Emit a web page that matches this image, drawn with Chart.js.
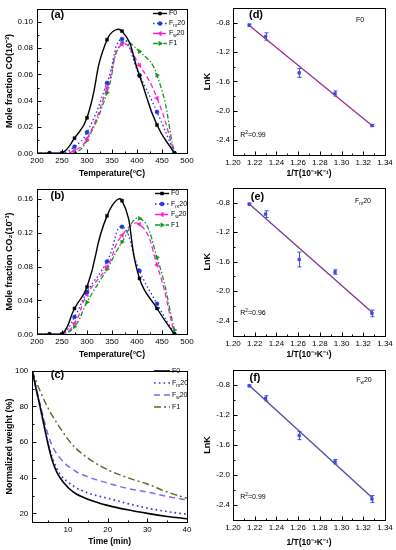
<!DOCTYPE html>
<html><head><meta charset="utf-8">
<script src="https://cdn.jsdelivr.net/npm/chart.js@4.4.1/dist/chart.umd.min.js"></script>
<style>
html,body{margin:0;padding:0;background:#fff;}
#wrap{position:relative;width:396px;height:550px;overflow:hidden;background:#fff;}
canvas{position:absolute;}
</style></head>
<body><div id="wrap">
<canvas id="ca" width="200" height="182" style="left:0;top:0"></canvas>
<canvas id="cb" width="200" height="182" style="left:0;top:180px"></canvas>
<canvas id="cc" width="200" height="188" style="left:0;top:362px"></canvas>
<canvas id="cd" width="196" height="182" style="left:200px;top:0"></canvas>
<canvas id="ce" width="196" height="182" style="left:200px;top:180px"></canvas>
<canvas id="cf" width="196" height="188" style="left:200px;top:362px"></canvas>
</div>
<script>
// ---------------- DATA ----------------
const seriesNames = ['F0', 'F_m20', 'F_w20', 'F1'];

// (a) CO and (b) CO2 vs temperature
const temperature = [200, 225, 250, 275, 300, 340, 370, 405, 440, 475];
const coF0   = [0, 0, 0, 0.0115, 0.027, 0.0865, 0.093, 0.059, 0.0215, 0];
const coFm20 = [0, 0, 0, 0.005, 0.016, 0.0535, 0.087, 0.0595, 0.0315, 0];
const coFw20 = [0, 0, 0, 0.002, 0.011, 0.0495, 0.083, 0.067, 0.042, 0];
const coF1   = [0, 0, 0, 0, 0.010, 0.046, 0.084, 0.0775, 0.0595, 0];
const co2F0   = [0, 0, 0, 0.0305, 0.056, 0.140, 0.158, 0.066, 0.0305, 0];
const co2Fm20 = [0, 0, 0, 0.0205, 0.050, 0.086, 0.127, 0.075, 0.036, 0];
const co2Fw20 = [0, 0, 0, 0.013, 0.047, 0.080, 0.117, 0.130, 0.082, 0];
const co2F1   = [0, 0, 0, 0.009, 0.038, 0.077, 0.109, 0.137, 0.091, 0.005];
const tempTicks = [200, 250, 300, 350, 400, 450, 500];
const coTicks = [0, 0.02, 0.04, 0.06, 0.08, 0.10];
const co2Ticks = [0, 0.04, 0.08, 0.12, 0.16];

// (c) normalized weight vs time
const timeMin = [1, 2, 3, 4, 5, 6, 7, 8, 10, 12, 15, 20, 25, 30, 35, 40];
const wtF0   = [100, 89.5, 79.5, 69, 58.5, 50, 44, 40, 34.5, 31, 28, 24.5, 22, 20, 18.3, 17];
const wtFm20 = [100, 89.5, 79.5, 69, 59, 51.5, 46, 42, 37.5, 34.5, 31.5, 28.5, 25.5, 23, 21, 19.5];
const wtFw20 = [100, 90, 81, 72, 64, 58, 54, 51, 46.5, 43.5, 40.5, 37, 34, 32, 29.5, 27.5];
const wtF1   = [100, 94, 88.5, 83.5, 79, 75, 71.5, 68, 61.5, 56.5, 51, 44.5, 40, 36.5, 32, 28.5];
const timeTicks = [10, 20, 30, 40];
const weightTicks = [20, 40, 60, 80, 100];

// (d)(e)(f) Arrhenius plots
const invT = [1.215, 1.230, 1.261, 1.294, 1.328];
const lnkF0   = [-0.836, -0.99, -1.485, -1.765, -2.20];
const errF0   = [0.015, 0.05, 0.06, 0.035, 0.012];
const lnkFm20 = [-0.82, -0.956, -1.57, -1.74, -2.30];
const errFm20 = [0.012, 0.045, 0.10, 0.03, 0.045];
const lnkFw20 = [-0.813, -0.98, -1.475, -1.824, -2.32];
const errFw20 = [0.012, 0.035, 0.055, 0.03, 0.045];
const fitInvT = [1.215, 1.328];
const fitF0   = [-0.84, -2.20];
const fitFm20 = [-0.82, -2.285];
const fitFw20 = [-0.81, -2.30];
const r2Labels = ['R^2=0.99', 'R^2=0.96', 'R^2=0.99'];
const invTTicks = [1.20, 1.22, 1.24, 1.26, 1.28, 1.30, 1.32, 1.34];
const lnkTicks = [-2.4, -2.0, -1.6, -1.2, -0.8];

// ---------------- HELPERS ----------------
const FF = "'Liberation Sans',Arial,sans-serif";
const pts = (xs, ys) => xs.map((x, i) => ({x, y: ys[i]}));

function parseRich(str) {
  const out = []; let i = 0;
  while (i < str.length) {
    const c = str[i];
    if ((c === '_' || c === '^') && i + 1 < str.length) {
      let t;
      if (str[i + 1] === '{') { const j = str.indexOf('}', i); t = str.slice(i + 2, j); i = j + 1; }
      else { t = str[i + 1]; i += 2; }
      out.push({t, mode: c === '_' ? 'sub' : 'sup'});
    } else {
      let j = i; while (j < str.length && str[j] !== '_' && str[j] !== '^') j++;
      out.push({t: str.slice(i, j), mode: 'n'}); i = j;
    }
  }
  return out;
}
function drawRich(ctx, str, x, y, size, bold, align) {
  const segs = parseRich(str);
  const fnt = s => (bold ? 'bold ' : '') + s + 'px ' + FF;
  const small = size * 0.68;
  let w = 0;
  segs.forEach(s => { ctx.font = fnt(s.mode === 'n' ? size : small); s.w = ctx.measureText(s.t).width; w += s.w; });
  let cx = align === 'center' ? x - w / 2 : align === 'right' ? x - w : x;
  ctx.textBaseline = 'middle'; ctx.textAlign = 'left'; ctx.fillStyle = '#000';
  segs.forEach(s => {
    ctx.font = fnt(s.mode === 'n' ? size : small);
    const dy = s.mode === 'sub' ? size * 0.32 : s.mode === 'sup' ? -size * 0.35 : 0;
    ctx.fillText(s.t, cx, y + dy); cx += s.w;
  });
}

const deco = {
  id: 'deco',
  afterDatasetsDraw(chart, args, o) {
    const {ctx, chartArea: a, scales} = chart;
    const xs = scales.x, ys = scales.y;
    ctx.save();
    // error bars
    chart.data.datasets.forEach(ds => {
      if (!ds.errorBars) return;
      ctx.strokeStyle = ds.errorColor; ctx.lineWidth = 1; ctx.setLineDash([]);
      ds.data.forEach((p, i) => {
        const e = ds.errorBars[i];
        const px = Math.round(xs.getPixelForValue(p.x)) + 0.5;
        const y1 = ys.getPixelForValue(p.y - e), y2 = ys.getPixelForValue(p.y + e);
        ctx.beginPath();
        ctx.moveTo(px, y1); ctx.lineTo(px, y2);
        ctx.moveTo(px - 2, y1); ctx.lineTo(px + 2, y1);
        ctx.moveTo(px - 2, y2); ctx.lineTo(px + 2, y2);
        ctx.stroke();
      });
    });
    // frame
    ctx.strokeStyle = '#000'; ctx.lineWidth = 1; ctx.setLineDash([]);
    const L = Math.round(a.left) + 0.5, R = Math.round(a.right) + 0.5, T = Math.round(a.top) + 0.5, B = Math.round(a.bottom) + 0.5;
    ctx.strokeRect(L, T, R - L, B - T);
    const major = xs.ticks.map(t => t.value);
    const ymajor = ys.ticks.map(t => t.value);
    const near = (arr, v, eps) => arr.some(m => Math.abs(m - v) < eps);
    ctx.beginPath();
    major.forEach(v => { const p = Math.round(xs.getPixelForValue(v)) + 0.5; ctx.moveTo(p, B); ctx.lineTo(p, B - 4); });
    ymajor.forEach(v => { const p = Math.round(ys.getPixelForValue(v)) + 0.5; ctx.moveTo(L, p); ctx.lineTo(L + 4, p); });
    const xst = o.xMinor, yst = o.yMinor;
    for (let k = Math.ceil(xs.min / xst - 1e-6); k * xst <= xs.max + 1e-9; k++) {
      const v = k * xst; if (near(major, v, xst / 10)) continue;
      const p = Math.round(xs.getPixelForValue(v)) + 0.5; ctx.moveTo(p, B); ctx.lineTo(p, B - 2);
    }
    for (let k = Math.ceil(ys.min / yst - 1e-6); k * yst <= ys.max + 1e-9; k++) {
      const v = k * yst; if (near(ymajor, v, yst / 10)) continue;
      const p = Math.round(ys.getPixelForValue(v)) + 0.5; ctx.moveTo(L, p); ctx.lineTo(L + 2, p);
    }
    ctx.stroke();
    // texts
    (o.texts || []).forEach(t => drawRich(ctx, t.s, t.x, t.y, t.size, t.bold, t.align || 'left'));
    // legend
    if (o.legend) {
      const lg = o.legend;
      chart.data.datasets.forEach((ds, i) => {
        const y = lg.y + i * lg.dy;
        ctx.strokeStyle = ds.borderColor; ctx.lineWidth = ds.borderWidth;
        ctx.setLineDash(ds.borderDash || []);
        ctx.beginPath(); ctx.moveTo(lg.x, y); ctx.lineTo(lg.x + lg.len, y); ctx.stroke();
        ctx.setLineDash([]);
        if (lg.markers) {
          ctx.fillStyle = ds.backgroundColor; ctx.strokeStyle = ds.borderColor; ctx.lineWidth = 0.5;
          Chart.helpers.drawPoint(ctx, {pointStyle: ds.pointStyle, radius: ds.legendRadius, rotation: ds.pointRotation || 0, borderWidth: 0.5}, lg.x + lg.len / 2, y);
        }
        drawRich(ctx, ds.label, lg.x + lg.len + 2, y, lg.size, false, 'left');
      });
    }
    ctx.restore();
  }
};

function mk(id, datasets, c) {
  const tickFont = {family: FF, size: 8};
  const xTitleFont = {family: FF, size: 8.5, weight: 'bold'};
  const yTitleFont = {family: FF, size: 9, weight: 'bold'};
  return new Chart(document.getElementById(id), {
    type: 'line',
    data: {datasets},
    options: {
      responsive: false, animation: false, devicePixelRatio: 1,
      layout: {padding: c.pad},
      plugins: {legend: {display: false}, tooltip: {enabled: false}, deco: c.deco},
      scales: {
        x: {
          type: 'linear', min: c.xMin, max: c.xMax,
          afterBuildTicks: s => { s.ticks = c.xTicks.map(v => ({value: v})); },
          afterFit: s => { s.height = c.xH; },
          grid: {display: false, drawTicks: false, tickLength: 0}, border: {display: false},
          ticks: {font: tickFont, color: '#000', padding: c.xPad, maxRotation: 0, minRotation: 0, autoSkip: false, callback: c.xFmt},
          title: {display: true, text: c.xTitle, font: xTitleFont, color: '#000', padding: {top: 0, bottom: c.xTitlePad}}
        },
        y: {
          type: 'linear', min: c.yMin, max: c.yMax,
          afterBuildTicks: s => { s.ticks = c.yTicks.map(v => ({value: v})); },
          afterFit: s => { s.width = c.yW; },
          grid: {display: false, drawTicks: false, tickLength: 0}, border: {display: false},
          ticks: {font: tickFont, color: '#000', padding: c.yPad, autoSkip: false, callback: c.yFmt},
          title: {display: true, text: c.yTitle, font: yTitleFont, color: '#000', padding: {top: c.yTitlePad, bottom: 0}}
        }
      }
    },
    plugins: [deco]
  });
}

const hideFirst = r => (ctx => (ctx.raw && ctx.raw.x <= 200 ? 0 : r));
function tempSets(v0, v1, v2, v3) {
  const common = {tension: 0.5, pointBorderWidth: 0.5};
  return [
    Object.assign({label: seriesNames[0], data: pts(temperature, v0), borderColor: '#000', backgroundColor: '#000', borderWidth: 1.4, pointStyle: 'rect', pointRadius: hideFirst(2.1), legendRadius: 2.1}, common),
    Object.assign({label: seriesNames[1], data: pts(temperature, v1), borderColor: '#1f35e8', backgroundColor: '#1f35e8', borderWidth: 1.3, borderDash: [1.5, 2.5], pointStyle: 'circle', pointRadius: hideFirst(2), legendRadius: 2}, common),
    Object.assign({label: seriesNames[2], data: pts(temperature, v2), borderColor: '#ff1ed2', backgroundColor: '#ff1ed2', borderWidth: 1.3, borderDash: [5, 3], pointStyle: 'triangle', pointRotation: -90, pointRadius: hideFirst(2.5), legendRadius: 2.5}, common),
    Object.assign({label: seriesNames[3], data: pts(temperature, v3), borderColor: '#14961e', backgroundColor: '#14961e', borderWidth: 1.3, borderDash: [5, 2, 1.5, 2], pointStyle: 'triangle', pointRotation: 90, pointRadius: hideFirst(2.5), legendRadius: 2.5}, common)
  ];
}
const f2 = v => Number(v).toFixed(2);
const f1 = v => Number(v).toFixed(1);
const f0 = v => String(Math.round(v));

// (a)
mk('ca', tempSets(coF0, coFm20, coFw20, coF1), {
  pad: {left: 0, right: 13, top: 5, bottom: 0}, xH: 28.7, yW: 37,
  xMin: 200, xMax: 500, yMin: 0, yMax: 0.11, xTicks: tempTicks, yTicks: coTicks, xFmt: f0, yFmt: f2,
  xPad: 3, yPad: 4, xTitle: 'Temperature(°C)', yTitle: 'Mole fraction CO(10⁻³)', xTitlePad: 2.9, yTitlePad: 4.6,
  deco: {xMinor: 25, yMinor: 0.01, texts: [{s: '(a)', x: 57.5, y: 15, size: 11, bold: true, align: 'center'}],
         legend: {x: 153, y: 13.5, dy: 10, len: 14, size: 7, markers: true}}
});
// (b)
mk('cb', tempSets(co2F0, co2Fm20, co2Fw20, co2F1), {
  pad: {left: 0, right: 13, top: 5, bottom: 0}, xH: 27.7, yW: 37,
  xMin: 200, xMax: 500, yMin: 0, yMax: 0.172, xTicks: tempTicks, yTicks: co2Ticks, xFmt: f0, yFmt: f2,
  xPad: 3, yPad: 4, xTitle: 'Temperature(°C)', yTitle: 'Mole fraction CO₂(10⁻³)', xTitlePad: 1.9, yTitlePad: 4.6,
  deco: {xMinor: 25, yMinor: 0.02, texts: [{s: '(b)', x: 57.5, y: 16, size: 11, bold: true, align: 'center'}],
         legend: {x: 155, y: 13.5, dy: 10.5, len: 14, size: 7, markers: true}}
});
// (c)
mk('cc', [
  {label: seriesNames[0], data: pts(timeMin, wtF0), borderColor: '#000', borderWidth: 1.6, cubicInterpolationMode: 'monotone', pointRadius: 0},
  {label: seriesNames[1], data: pts(timeMin, wtFm20), borderColor: '#3232d8', borderWidth: 1.7, borderDash: [1.6, 3.2], cubicInterpolationMode: 'monotone', pointRadius: 0},
  {label: seriesNames[2], data: pts(timeMin, wtFw20), borderColor: '#9060f0', borderWidth: 1.5, borderDash: [6, 4], cubicInterpolationMode: 'monotone', pointRadius: 0},
  {label: seriesNames[3], data: pts(timeMin, wtF1), borderColor: '#56692a', borderWidth: 1.4, borderDash: [7, 3, 2, 3], cubicInterpolationMode: 'monotone', pointRadius: 0}
], {
  pad: {left: 0, right: 13, top: 4.7, bottom: 0}, xH: 27.7, yW: 32.3,
  xMin: 1, xMax: 40, yMin: 15, yMax: 100, xTicks: timeTicks, yTicks: weightTicks, xFmt: f0, yFmt: f0,
  xPad: 3, yPad: 4, xTitle: 'Time (min)', yTitle: 'Normalized weight (%)', xTitlePad: 2.9, yTitlePad: 4.6,
  deco: {xMinor: 5, yMinor: 10, texts: [{s: '(c)', x: 57.5, y: 13, size: 11, bold: true, align: 'center'}],
         legend: {x: 154, y: 9, dy: 12, len: 16, size: 7, markers: false}}
});

// (d)(e)(f)
function arrSets(lnk, err, fit, fitColor) {
  return [
    {label: 'fit', data: pts(fitInvT, fit), borderColor: fitColor, borderWidth: 1.3, tension: 0, pointRadius: 0},
    {label: 'pts', data: pts(invT, lnk), showLine: false, pointStyle: 'rect', pointRadius: 1.9, pointBorderWidth: 0.5, backgroundColor: '#2a3be6', borderColor: '#2a3be6', errorBars: err, errorColor: '#3e50e6'}
  ];
}
function arrCfg(id, sets, c) {
  mk(id, sets, {
    pad: {left: 0, right: 11, top: c.top, bottom: 0}, xH: c.xH, yW: 33,
    xMin: 1.20, xMax: 1.34, yMin: -2.6, yMax: -0.6, xTicks: invTTicks, yTicks: lnkTicks, xFmt: f2, yFmt: f1,
    xPad: 3, yPad: 3, xTitle: '1/T(10⁻³K⁻¹)', yTitle: 'LnK', xTitlePad: c.tp, yTitlePad: 2.6,
    deco: {xMinor: 0.01, yMinor: 0.2, texts: c.texts}
  });
}
arrCfg('cd', arrSets(lnkF0, errF0, fitF0, '#9e2a8e'), {top: 5, xH: 27, tp: 2.9, texts: [
  {s: '(d)', x: 56, y: 15, size: 11, bold: true, align: 'center'},
  {s: seriesNames[0], x: 160, y: 20, size: 7, align: 'center'},
  {s: r2Labels[0], x: 53, y: 135, size: 7, align: 'center'}]});
arrCfg('ce', arrSets(lnkFm20, errFm20, fitFm20, '#7a3894'), {top: 6.8, xH: 26.4, tp: 1.9, texts: [
  {s: '(e)', x: 57.5, y: 16.7, size: 11, bold: true, align: 'center'},
  {s: seriesNames[1], x: 163, y: 21, size: 7, align: 'center'},
  {s: r2Labels[1], x: 53, y: 133, size: 7, align: 'center'}]});
arrCfg('cf', arrSets(lnkFw20, errFw20, fitFw20, '#4c4c9c'), {top: 6, xH: 30, tp: 2.4, texts: [
  {s: '(f)', x: 55, y: 16, size: 11, bold: true, align: 'center'},
  {s: seriesNames[2], x: 164, y: 18, size: 7, align: 'center'},
  {s: r2Labels[2], x: 53, y: 134.7, size: 7, align: 'center'}]});
</script>
</body></html>
